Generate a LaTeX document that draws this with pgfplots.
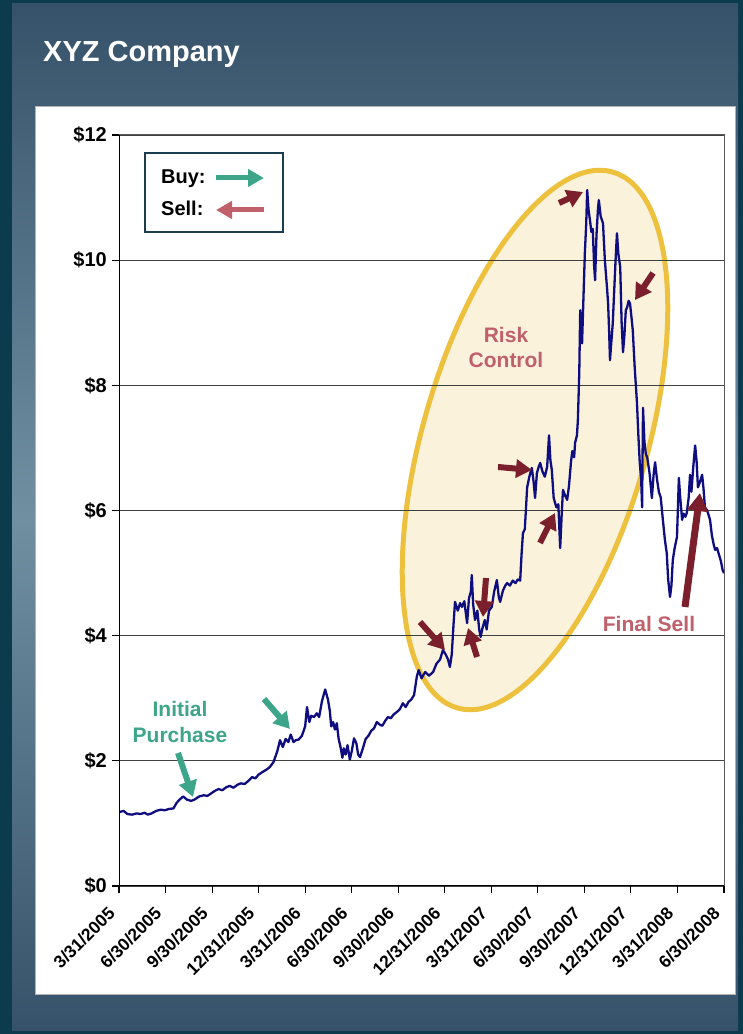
\documentclass[border=0pt]{standalone}
\usepackage{pgfplots}
\pgfplotsset{compat=1.18}
\usepackage{fontspec}
\setmainfont{Liberation Sans}
\usetikzlibrary{arrows.meta}
\definecolor{frame}{HTML}{0C3B4E}
\definecolor{paneltop}{HTML}{36526A}
\definecolor{panelmid}{HTML}{7090A2}
\definecolor{navy}{HTML}{0E0E80}
\definecolor{buygreen}{HTML}{3DA68A}
\definecolor{selldark}{HTML}{7B1F2C}
\definecolor{sellpink}{HTML}{C0606B}
\definecolor{gold}{HTML}{EDC13E}
\definecolor{cream}{HTML}{FBF2DC}
\definecolor{legframe}{HTML}{1C3D4F}
\pgfplotstableread{
x y
0.00 1.18
0.10 1.20
0.18 1.15
0.28 1.14
0.38 1.16
0.46 1.15
0.55 1.17
0.62 1.14
0.70 1.16
0.80 1.20
0.90 1.22
0.98 1.21
1.07 1.23
1.17 1.24
1.24 1.33
1.30 1.38
1.38 1.43
1.46 1.38
1.55 1.36
1.62 1.38
1.72 1.43
1.82 1.45
1.90 1.44
1.98 1.48
2.06 1.52
2.14 1.55
2.22 1.53
2.31 1.58
2.38 1.60
2.46 1.57
2.55 1.62
2.62 1.64
2.70 1.63
2.78 1.68
2.86 1.74
2.93 1.72
3.00 1.78
3.08 1.82
3.17 1.86
3.24 1.90
3.32 1.98
3.40 2.15
3.46 2.33
3.52 2.22
3.58 2.35
3.64 2.30
3.69 2.42
3.75 2.30
3.80 2.33
3.86 2.34
3.93 2.40
4.00 2.55
4.04 2.86
4.09 2.62
4.13 2.72
4.19 2.70
4.25 2.76
4.30 2.70
4.36 2.95
4.43 3.14
4.49 2.98
4.53 2.80
4.56 2.55
4.60 2.62
4.64 2.50
4.68 2.60
4.72 2.35
4.76 2.22
4.80 2.05
4.83 2.20
4.87 2.10
4.91 2.25
4.96 2.02
5.00 2.15
5.05 2.36
5.10 2.28
5.14 2.10
5.18 2.06
5.24 2.20
5.30 2.35
5.36 2.40
5.42 2.48
5.48 2.52
5.54 2.62
5.60 2.58
5.66 2.56
5.72 2.64
5.78 2.70
5.84 2.68
5.90 2.74
5.97 2.78
6.03 2.82
6.10 2.92
6.16 2.86
6.22 2.94
6.28 2.98
6.34 3.05
6.40 3.35
6.44 3.45
6.50 3.32
6.58 3.42
6.66 3.36
6.75 3.42
6.82 3.55
6.90 3.62
6.96 3.77
7.02 3.70
7.07 3.62
7.11 3.50
7.15 3.70
7.19 4.20
7.22 4.54
7.28 4.40
7.33 4.52
7.37 4.46
7.42 4.55
7.48 4.20
7.52 4.60
7.56 4.70
7.58 4.97
7.61 4.50
7.65 4.25
7.70 4.40
7.74 4.10
7.77 3.98
7.81 4.12
7.86 4.25
7.90 4.10
7.95 4.40
8.01 4.46
8.06 4.70
8.12 4.89
8.16 4.62
8.19 4.54
8.25 4.72
8.30 4.80
8.34 4.84
8.40 4.80
8.46 4.88
8.52 4.84
8.57 4.90
8.62 4.88
8.65 5.30
8.68 5.64
8.72 5.70
8.77 6.37
8.82 6.55
8.87 6.68
8.91 6.45
8.94 6.20
8.98 6.60
9.02 6.70
9.05 6.76
9.10 6.62
9.15 6.54
9.20 6.70
9.24 7.20
9.27 6.80
9.30 6.65
9.34 6.20
9.37 6.12
9.40 6.05
9.44 6.10
9.48 5.40
9.51 5.90
9.54 6.33
9.58 6.25
9.63 6.17
9.67 6.40
9.71 6.76
9.74 6.95
9.78 6.85
9.80 7.08
9.84 7.20
9.86 7.44
9.89 8.20
9.91 9.20
9.93 9.00
9.95 8.67
9.98 9.40
10.01 10.11
10.04 10.60
10.06 11.12
10.09 10.80
10.12 10.64
10.15 10.45
10.18 10.50
10.21 9.90
10.23 9.68
10.26 10.40
10.29 10.80
10.31 10.96
10.35 10.70
10.40 10.59
10.44 10.00
10.49 9.52
10.51 9.30
10.53 8.90
10.55 8.40
10.58 8.70
10.61 8.99
10.64 9.50
10.67 10.00
10.70 10.43
10.73 10.10
10.77 9.89
10.80 9.00
10.83 8.53
10.86 8.80
10.89 9.20
10.92 9.25
10.95 9.35
10.98 9.31
11.01 9.10
11.04 8.88
11.08 8.30
11.13 7.72
11.16 7.20
11.19 6.76
11.22 6.50
11.24 6.05
11.26 7.64
11.29 7.10
11.32 6.90
11.35 6.85
11.40 6.60
11.45 6.20
11.49 6.60
11.52 6.77
11.56 6.50
11.60 6.30
11.64 6.21
11.68 5.90
11.73 5.53
11.77 5.32
11.80 4.90
11.84 4.62
11.87 4.80
11.90 5.21
11.94 5.40
11.99 5.58
12.03 6.52
12.06 6.20
12.10 5.85
12.13 5.95
12.17 5.90
12.20 5.96
12.24 6.20
12.27 6.57
12.30 6.30
12.34 6.70
12.38 7.04
12.41 6.80
12.44 6.37
12.48 6.45
12.53 6.57
12.56 6.35
12.59 6.05
12.64 6.00
12.70 5.85
12.74 5.60
12.78 5.45
12.81 5.37
12.85 5.40
12.89 5.30
12.93 5.20
12.97 5.05
13.00 5.00
}\pricedata
\tikzset{
  fatarrow/.style={line width=6pt, -{Triangle[length=16pt, width=18pt]}},
  legarrow/.style={line width=5pt, -{Triangle[length=16pt, width=17pt]}},
}
\begin{document}
\begin{tikzpicture}[x=1pt,y=1pt]
\fill[frame] (0,0) rectangle (743,1034);
\shade[top color=paneltop, bottom color=paneltop, middle color=panelmid] (12,3) rectangle (738,1030);
\fill[white, draw=gray!60] (35,40) rectangle (735,928);
\node[anchor=base west, white, font=\fontsize{29}{32}\selectfont\bfseries, inner sep=0pt] at (43,972) {XYZ Company};
\draw[gold, fill=cream, line width=5pt, rotate around={73.8:(535,594)}] (535,594) ellipse [x radius=279, y radius=112];
\begin{axis}[
  at={(119pt,148pt)}, anchor=south west,
  scale only axis, width=605pt, height=751pt,
  xmin=0, xmax=13, ymin=0, ymax=12,
  xtick={0,1,...,13},
  xticklabels={3/31/2005,6/30/2005,9/30/2005,12/31/2005,3/31/2006,6/30/2006,9/30/2006,12/31/2006,3/31/2007,6/30/2007,9/30/2007,12/31/2007,3/31/2008,6/30/2008},
  ytick={0,2,...,12},
  yticklabels={\$0,\$2,\$4,\$6,\$8,\$10,\$12},
  xtick pos=left, ytick pos=left,
  tick align=outside, major tick length=7pt,
  tick style={black, line width=1.1pt},
  ymajorgrids, grid style={black!75, line width=1.1pt},
  axis line style={draw=gray!70!black, line width=1pt},
  yticklabel style={font=\fontsize{20}{22}\selectfont\bfseries, inner sep=2pt, xshift=-3pt},
  xticklabel style={font=\fontsize{17.5}{20}\selectfont\bfseries, xshift=-12pt, yshift=-11pt, rotate=45, anchor=north east, inner sep=1pt},
]
\addplot[navy, line width=2.3pt, line join=round] table[x=x, y=y] {\pricedata};
\draw[black, line width=1.3pt] (axis cs:0,12) -- (axis cs:0,0) -- (axis cs:13,0);
\end{axis}
% legend box
\draw[legframe, fill=white, line width=2pt] (145,802) rectangle (283,881);
\node[anchor=base west, inner sep=0pt, font=\fontsize{20}{22}\selectfont\bfseries] at (161,850) {Buy:};
\node[anchor=base west, inner sep=0pt, font=\fontsize{20}{22}\selectfont\bfseries] at (161,818) {Sell:};
\draw[buygreen, legarrow] (216,856) -- (264,856);
\draw[sellpink, legarrow] (264,824) -- (216,824);
% annotation texts
\node[anchor=base, inner sep=0pt, buygreen, font=\fontsize{21}{24}\selectfont\bfseries] at (180,317) {Initial};
\node[anchor=base, inner sep=0pt, buygreen, font=\fontsize{21}{24}\selectfont\bfseries] at (180,291) {Purchase};
\node[anchor=base, inner sep=0pt, sellpink, font=\fontsize{21}{24}\selectfont\bfseries] at (506,691) {Risk};
\node[anchor=base, inner sep=0pt, sellpink, font=\fontsize{21}{24}\selectfont\bfseries] at (506,666) {Control};
\node[anchor=base, inner sep=0pt, sellpink, font=\fontsize{21}{24}\selectfont\bfseries] at (649,402) {Final Sell};
% buy arrows
\draw[buygreen, fatarrow] (178,281) -- (193,237);
\draw[buygreen, fatarrow] (264,335) -- (290,305);
% sell arrows
\draw[selldark, fatarrow] (420,412) -- (445,384);
\draw[selldark, fatarrow] (486,456) -- (483,417);
\draw[selldark, fatarrow] (477,377) -- (468,406);
\draw[selldark, fatarrow] (498,567) -- (532,564);
\draw[selldark, fatarrow] (540,491) -- (555,521);
\draw[selldark, fatarrow] (559,831) -- (583,842);
\draw[selldark, fatarrow] (653,761) -- (635,734);
\draw[selldark, line width=7pt, -{Triangle[length=18pt, width=20pt]}] (685,427) -- (700,541);
\end{tikzpicture}
\end{document}
